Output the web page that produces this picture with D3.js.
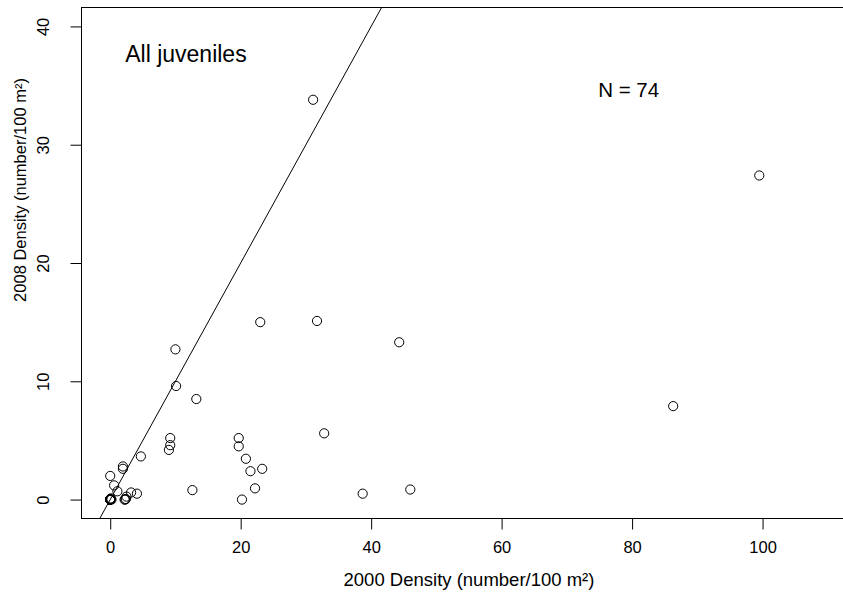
<!DOCTYPE html>
<html>
<head>
<meta charset="utf-8">
<script src="https://cdn.jsdelivr.net/npm/d3@7"></script>
<style>
  html, body { margin: 0; padding: 0; background: #fff; }
  text { font-family: "Liberation Sans", Arial, Helvetica, sans-serif; fill: #000; }
</style>
</head>
<body>
<svg id="chart" width="843" height="599"></svg>
<script>
// Juvenile density per site: 2000 survey (x) vs 2008 survey (y), number per 100 m²
const density2000 = [
  31.1, 99.5, 23.0, 31.7, 44.3, 10.0, 10.1, 13.2, 32.8, 86.3,
  9.2, 9.2, 9.0, 19.7, 19.7, 20.8, 4.7, 23.3, 21.5, 12.6,
  22.2, 20.2, 38.7, 46.0, 1.95, 1.95, 0.0, 0.6, 1.1, 2.2,
  2.5, 3.2, 4.1, 2.3, 0.2, 2.4, 0.1, 0.0, 0.0, 0.0,
  0.0, 0.0, 0.0, 0.0, 0.0, 0.0, 0.0, 0.0, 0.0, 0.0,
  0.0, 0.0, 0.0, 0.0, 0.0, 0.0, 0.0, 0.0, 0.0, 0.0,
  0.0, 0.0, 0.0, 0.0, 0.0, 0.0, 0.0, 0.0, 0.0, 0.0,
  0.0, 0.0, 0.0, 0.0
];
const density2008 = [
  33.8, 27.4, 15.0, 15.1, 13.3, 12.7, 9.6, 8.5, 5.6, 7.9,
  5.2, 4.6, 4.2, 5.2, 4.5, 3.45, 3.65, 2.6, 2.4, 0.8,
  0.95, 0.0, 0.5, 0.85, 2.8, 2.6, 2.0, 1.2, 0.7, 0.0,
  0.25, 0.6, 0.5, 0.0, 0.0, 0.05, 0.1, 0.0, 0.0, 0.0,
  0.0, 0.0, 0.0, 0.0, 0.0, 0.0, 0.0, 0.0, 0.0, 0.0,
  0.0, 0.0, 0.0, 0.0, 0.0, 0.0, 0.0, 0.0, 0.0, 0.0,
  0.0, 0.0, 0.0, 0.0, 0.0, 0.0, 0.0, 0.0, 0.0, 0.0,
  0.0, 0.0, 0.0, 0.0
];
const xTicks = [0, 20, 40, 60, 80, 100];
const yTicks = [0, 10, 20, 30, 40];
const xTitle = "2000 Density (number/100 m²)";
const yTitle = "2008 Density (number/100 m²)";
const panelLabel = "All juveniles";
const sampleLabel = "N = " + density2000.length;

const points = density2000.map((d, i) => ({ x: d, y: density2008[i] }));

const svg = d3.select("#chart");
const plot = { left: 81.5, top: 7.5, right: 856.5, bottom: 518.5 };

const x = d3.scaleLinear().domain([-4.4, 114.4]).range([plot.left, plot.right]);
const y = d3.scaleLinear().domain([-1.6, 41.6]).range([plot.bottom, plot.top]);

svg.append("rect").attr("width", 843).attr("height", 599).attr("fill", "#fff");

svg.append("defs").append("clipPath").attr("id", "plot-clip")
  .append("rect")
  .attr("x", plot.left).attr("y", plot.top)
  .attr("width", plot.right - plot.left).attr("height", plot.bottom - plot.top);

// 1:1 reference line
const lineExtent = [-5, 45];
svg.append("line")
  .attr("clip-path", "url(#plot-clip)")
  .attr("x1", x(lineExtent[0])).attr("y1", y(lineExtent[0]))
  .attr("x2", x(lineExtent[1])).attr("y2", y(lineExtent[1]))
  .attr("stroke", "#000").attr("stroke-width", 1);

// Sites
svg.append("g")
  .selectAll("circle")
  .data(points)
  .join("circle")
  .attr("cx", d => x(d.x))
  .attr("cy", d => y(d.y))
  .attr("r", 4.6)
  .attr("fill", "none")
  .attr("stroke", "#000")
  .attr("stroke-width", 1);

// Plot frame
svg.append("rect")
  .attr("x", plot.left).attr("y", plot.top)
  .attr("width", plot.right - plot.left).attr("height", plot.bottom - plot.top)
  .attr("fill", "none").attr("stroke", "#000").attr("stroke-width", 1);

// Bottom axis
const gx = svg.append("g")
  .attr("transform", `translate(0,${plot.bottom})`)
  .call(d3.axisBottom(x).tickValues(xTicks).tickSize(11).tickPadding(12).tickFormat(d3.format("d")));
gx.select(".domain").remove();
gx.selectAll("line").attr("stroke", "#000");
gx.selectAll("text").attr("font-size", 16.5).attr("fill", "#000").attr("font-family", null);

// Left axis, labels parallel to the axis
const gy = svg.append("g")
  .attr("transform", `translate(${plot.left},0)`)
  .call(d3.axisLeft(y).tickValues(yTicks).tickSize(11).tickFormat(d3.format("d")));
gy.select(".domain").remove();
gy.selectAll("line").attr("stroke", "#000");
gy.selectAll("text")
  .attr("x", null).attr("dy", null)
  .attr("transform", "translate(-39,0) rotate(-90)")
  .attr("text-anchor", "middle")
  .attr("dominant-baseline", "central")
  .attr("font-size", 16.5).attr("fill", "#000").attr("font-family", null);

// Axis titles
svg.append("text")
  .attr("x", (plot.left + plot.right) / 2).attr("y", 586)
  .attr("text-anchor", "middle").attr("font-size", 18.5)
  .text(xTitle);

svg.append("text")
  .attr("transform", "translate(20,190) rotate(-90)")
  .attr("text-anchor", "middle").attr("dominant-baseline", "central").attr("font-size", 16.5)
  .text(yTitle);

// Panel annotations
svg.append("text")
  .attr("x", x(2.3)).attr("y", y(37.0))
  .attr("font-size", 23)
  .text(panelLabel);

svg.append("text")
  .attr("x", x(74.8)).attr("y", y(34.0))
  .attr("font-size", 20.5)
  .text(sampleLabel);
</script>
</body>
</html>
